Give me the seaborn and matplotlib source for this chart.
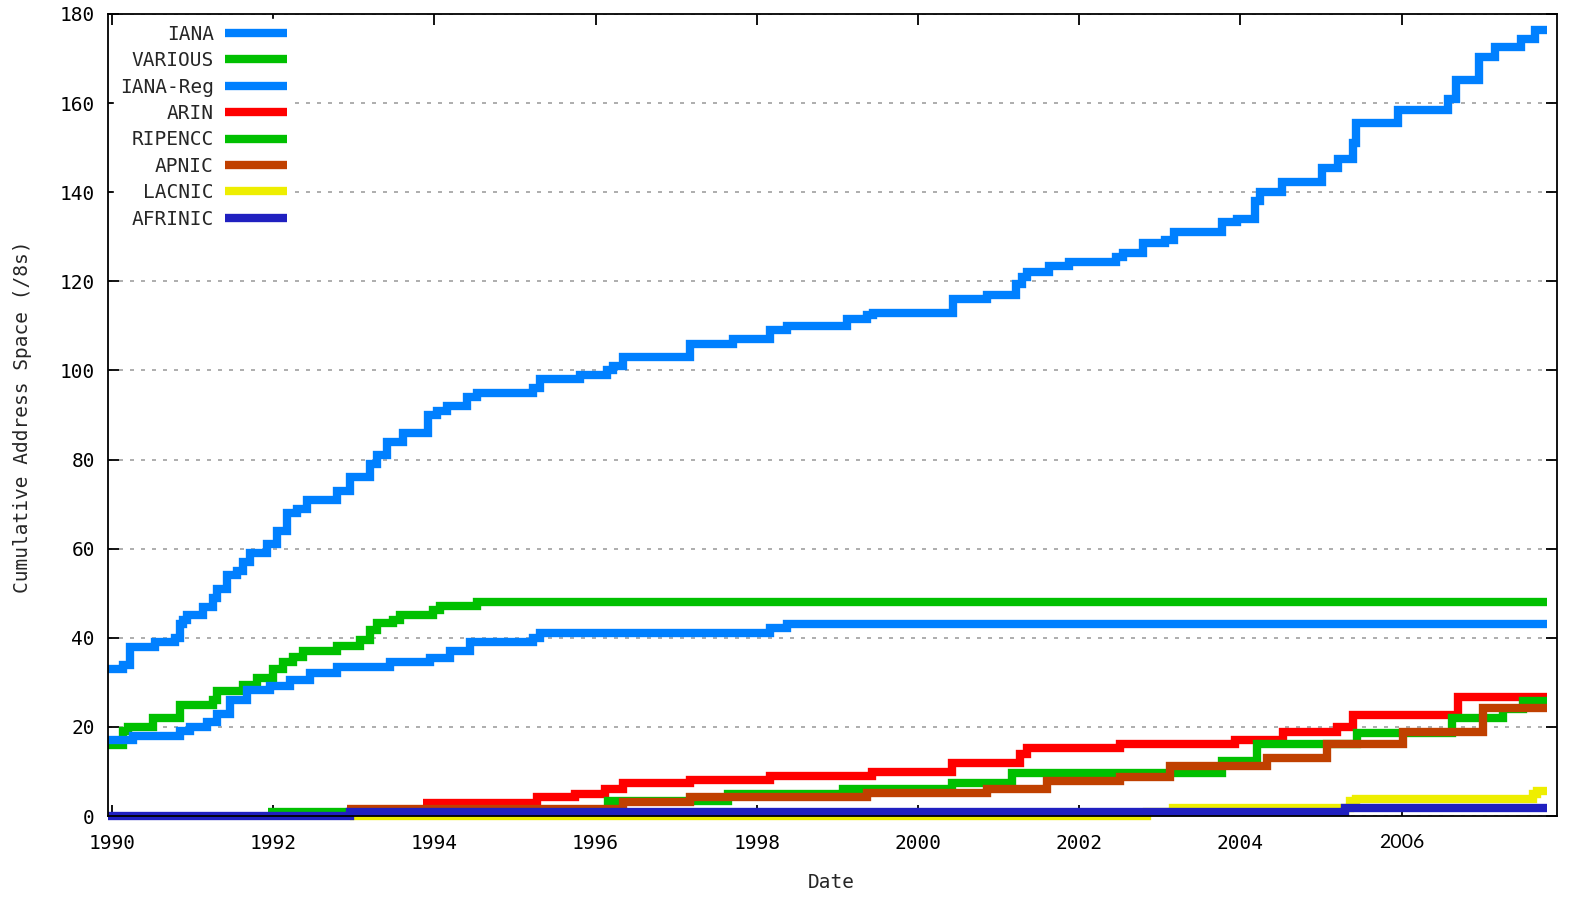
import pandas as pd
import matplotlib
matplotlib.use("Agg")
import matplotlib.pyplot as plt
import seaborn as sns

# === Datos (año decimal, /8 acumulados) ===
names = ["IANA", "VARIOUS", "IANA-Reg", "ARIN", "RIPENCC", "APNIC", "LACNIC", "AFRINIC"]

iana_year = [1989.95, 1990.14, 1990.22, 1990.53, 1990.78, 1990.84, 1990.88, 1990.93,
             1991.13, 1991.25, 1991.30, 1991.43, 1991.55, 1991.63, 1991.71, 1991.92,
             1992.05, 1992.17, 1992.30, 1992.42, 1992.79, 1992.95, 1993.20, 1993.29,
             1993.41, 1993.61, 1993.92, 1994.03, 1994.16, 1994.40, 1994.53, 1995.22,
             1995.31, 1995.81, 1996.14, 1996.22, 1996.34, 1997.17, 1997.70, 1998.16,
             1998.37, 1999.12, 1999.37, 1999.44, 2000.43, 2000.86, 2001.22, 2001.29,
             2001.35, 2001.63, 2001.87, 2002.46, 2002.54, 2002.79, 2003.06, 2003.18,
             2003.77, 2003.96, 2004.18, 2004.24, 2004.52, 2005.01, 2005.21, 2005.40,
             2005.43, 2005.96, 2006.58, 2006.68, 2006.96, 2007.16, 2007.48, 2007.66,
             2007.80]
iana_val = [33, 34, 38, 39, 40, 43, 44, 45,
            47, 49, 51, 54, 55, 57, 59, 61,
            64, 68, 69, 71, 73, 76, 79, 81,
            84, 86, 90, 91, 92, 94, 95, 96,
            98, 99, 100, 101, 103, 106, 107, 109,
            110, 111.5, 112.5, 113, 116, 117, 119.5, 121,
            122, 123.4, 124.3, 125.5, 126.3, 128.5, 129.3, 131,
            133.3, 134, 138, 140, 142.3, 145.4, 147.4, 151,
            155.5, 158.4, 161, 165.2, 170.3, 172.6, 174.3, 176.4,
            176.4]

various_year = [1989.95, 1990.14, 1990.20, 1990.51, 1990.84, 1991.25, 1991.30, 1991.63,
                1991.80, 1992.00, 1992.12, 1992.25, 1992.37, 1992.79, 1993.08, 1993.20,
                1993.29, 1993.49, 1993.57, 1993.98, 1994.07, 1994.53, 2007.80]
various_val = [16, 19, 20, 22, 25, 26, 28, 29.4,
               31, 33, 34.6, 35.7, 37, 38.2, 39.5, 41.7,
               43.3, 44, 45, 46.2, 47.1, 48, 48]

ianareg_year = [1989.95, 1990.26, 1990.84, 1990.97, 1991.18, 1991.30, 1991.46, 1991.67,
                1991.96, 1992.21, 1992.46, 1992.79, 1993.45, 1993.95, 1994.19, 1994.44,
                1995.22, 1995.31, 1998.16, 1998.37, 2007.80]
ianareg_val = [17, 18, 19, 20, 21, 23, 26, 28.3,
               29.2, 30.5, 32, 33.5, 34.6, 35.4, 37, 39,
               40, 41, 42.2, 43, 43]

arin_year = [1993.86, 1995.27, 1995.74, 1996.12, 1996.34, 1997.17, 1998.16, 1999.43,
             2000.42, 2001.27, 2001.35, 2002.51, 2003.93, 2004.53, 2005.20, 2005.40,
             2006.70, 2007.80]
arin_val = [3, 4.3, 5, 6, 7.4, 8.1, 9, 9.9,
            12, 14, 15.3, 16.2, 17, 18.9, 20, 22.7,
            26.8, 26.8]

ripencc_year = [1991.94, 1996.15, 1997.64, 1999.07, 2000.42, 2001.17, 2003.77, 2004.21,
                2005.45, 2006.63, 2007.26, 2007.51, 2007.80]
ripencc_val = [1, 3.3, 5, 6, 7.4, 9.6, 12.3, 16.2,
               18.7, 22, 24, 25.8, 25.8]

apnic_year = [1992.92, 1996.34, 1997.17, 1999.37, 2000.86, 2001.60, 2002.51, 2003.13,
              2004.33, 2005.07, 2006.02, 2007.01, 2007.80]
apnic_val = [1.6, 3.2, 4.3, 5.1, 6, 7.8, 8.8, 11.2,
             13, 16.2, 18.9, 24.2, 24.2]

lacnic_year = [1992.95, 2002.84, 2003.16, 2005.36, 2005.43, 2007.63, 2007.68, 2007.80]
lacnic_val = [0, 1, 1.7, 3.3, 3.8, 5, 5.6, 5.6]

afrinic_year = [1989.95, 1992.95, 2005.30, 2007.80]
afrinic_val = [0, 0.9, 1.9, 1.9]

xtick_years = [1990, 1992, 1994, 1996, 1998, 2000, 2002, 2004, 2006]
ytick_vals = [0, 20, 40, 60, 80, 100, 120, 140, 160, 180]

colores = {
    "IANA": "#0080FF",
    "VARIOUS": "#00C000",
    "IANA-Reg": "#0080FF",
    "ARIN": "#FF0000",
    "RIPENCC": "#00C000",
    "APNIC": "#C04000",
    "LACNIC": "#EEEE00",
    "AFRINIC": "#2020C0",
}

series = [
    ("IANA", iana_year, iana_val),
    ("VARIOUS", various_year, various_val),
    ("IANA-Reg", ianareg_year, ianareg_val),
    ("ARIN", arin_year, arin_val),
    ("RIPENCC", ripencc_year, ripencc_val),
    ("APNIC", apnic_year, apnic_val),
    ("LACNIC", lacnic_year, lacnic_val),
    ("AFRINIC", afrinic_year, afrinic_val),
]

filas = []
for nombre, anios, valores in series:
    for a, v in zip(anios, valores):
        filas.append({"registry": nombre, "year": a, "value": v})
df = pd.DataFrame(filas)

# === Estilo ===
sns.set_theme(style="ticks")
plt.rcParams["font.family"] = ["DejaVu Sans Mono", "DejaVu Sans"]

fig = plt.figure(figsize=(15.72, 8.97), dpi=100)
ax = fig.add_axes([0.0687, 0.0903, 0.9218, 0.8941])

sns.lineplot(data=df, x="year", y="value", hue="registry", hue_order=names,
             palette=colores, estimator=None, sort=False, drawstyle="steps-post",
             linewidth=6.0, legend=False, ax=ax,
             solid_capstyle="butt", solid_joinstyle="miter")
for linea in ax.lines:
    linea.set_clip_on(False)

ax.set_xlim(1989.95, 2007.93)
ax.set_ylim(0, 180)
ax.set_xticks(xtick_years)
etiquetas = ax.set_xticklabels([str(a) for a in xtick_years])
etiquetas[-1].set_fontfamily("Lato")
etiquetas[-1].set_fontsize(15.5)
ax.set_yticks(ytick_vals)

ax.set_axisbelow(True)
ax.yaxis.grid(True, linestyle=(0, (2.4, 4.2)), color="#a0a0a0", linewidth=1.2)
ax.xaxis.grid(False)

for lado in ["left", "right", "top", "bottom"]:
    ax.spines[lado].set_visible(True)
    ax.spines[lado].set_color("black")
    ax.spines[lado].set_linewidth(1.3)

ax.tick_params(axis="both", direction="in", length=8, width=1.3,
               top=True, right=True, labelsize=14, colors="black")
ax.tick_params(axis="x", pad=13)
ax.tick_params(axis="y", pad=9.5)

ax.set_xlabel("Date", fontsize=14)
ax.set_ylabel("Cumulative Address Space (/8s)", fontsize=14)
ax.xaxis.set_label_coords(0.499, -0.083)
ax.xaxis.label.set_va("center")
ax.yaxis.set_label_coords(-0.0587, 0.4975)
ax.yaxis.label.set_va("center")

leg = ax.legend(ax.lines[:len(names)], names, loc="upper right",
                bbox_to_anchor=(293 / 1572, 1 - 19 / 897),
                bbox_transform=fig.transFigure, markerfirst=False,
                frameon=True, fancybox=False, framealpha=1,
                edgecolor="white", facecolor="white",
                borderpad=0.3, borderaxespad=0, labelspacing=0.38,
                handlelength=3.2, handletextpad=0.57, fontsize=14)

fig.savefig("out.png", dpi=100, facecolor="white")
plt.close(fig)
